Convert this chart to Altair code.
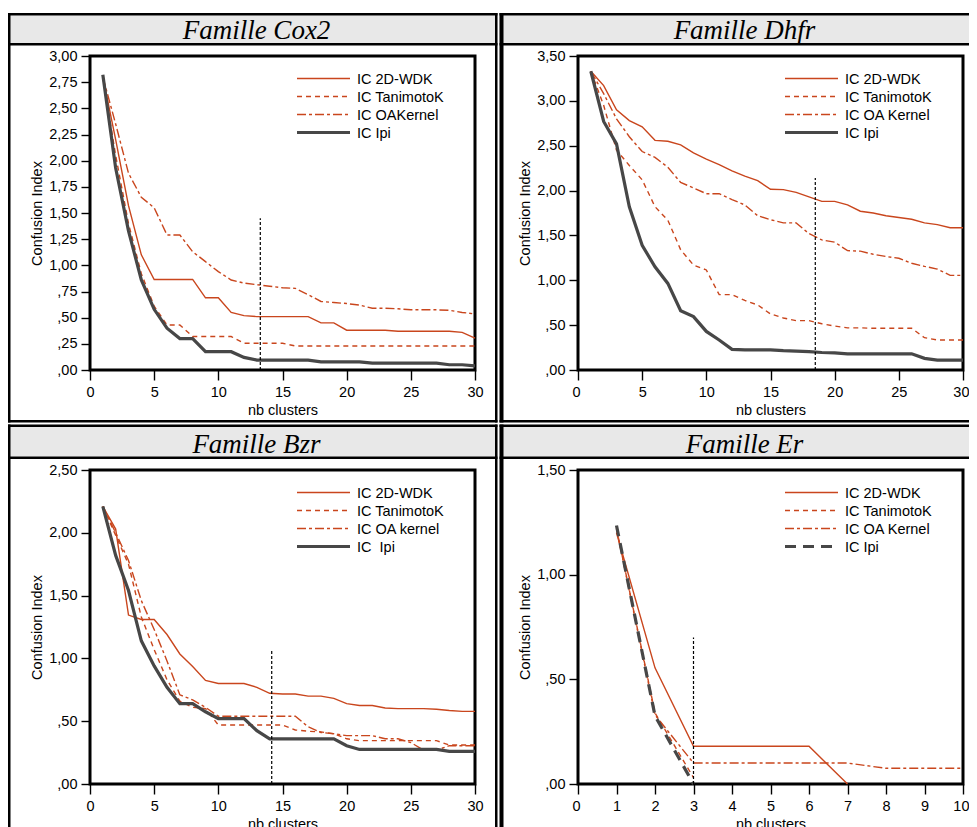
import altair as alt
import pandas as pd

# ---------------- data ----------------
x30 = list(range(1, 31))

cox2_wdk = [2.80, 2.20, 1.57, 1.10, 0.865, 0.865, 0.865, 0.865, 0.69, 0.69, 0.55, 0.52, 0.51, 0.51, 0.51,
            0.51, 0.51, 0.45, 0.45, 0.38, 0.38, 0.38, 0.38, 0.37, 0.37, 0.37, 0.37, 0.37, 0.36, 0.305]
cox2_tan = [2.80, 2.05, 1.40, 0.92, 0.61, 0.43, 0.43, 0.32, 0.32, 0.32, 0.32, 0.255, 0.255, 0.255, 0.255,
            0.23, 0.23, 0.23, 0.23, 0.23, 0.23, 0.23, 0.23, 0.23, 0.23, 0.23, 0.23, 0.23, 0.23, 0.23]
cox2_oa = [2.80, 2.35, 1.88, 1.65, 1.55, 1.29, 1.29, 1.13, 1.035, 0.94, 0.86, 0.83, 0.815, 0.80, 0.786,
           0.78, 0.72, 0.655, 0.645, 0.635, 0.62, 0.59, 0.59, 0.585, 0.575, 0.575, 0.575, 0.57, 0.55, 0.535]
cox2_ipi = [2.82, 1.93, 1.33, 0.86, 0.58, 0.40, 0.30, 0.30, 0.175, 0.175, 0.175, 0.12, 0.095, 0.095, 0.095,
            0.095, 0.095, 0.078, 0.078, 0.078, 0.078, 0.065, 0.065, 0.065, 0.065, 0.065, 0.065, 0.05, 0.05, 0.04]

dhfr_wdk = [3.33, 3.17, 2.90, 2.78, 2.71, 2.56, 2.55, 2.51, 2.42, 2.35, 2.29, 2.22, 2.16, 2.11, 2.015,
            2.01, 1.98, 1.93, 1.88, 1.88, 1.84, 1.77, 1.75, 1.72, 1.70, 1.68, 1.64, 1.62, 1.585, 1.585]
dhfr_tan = [3.33, 2.95, 2.45, 2.28, 2.12, 1.82, 1.67, 1.34, 1.17, 1.115, 0.84, 0.84, 0.775, 0.725, 0.625,
            0.58, 0.55, 0.55, 0.515, 0.49, 0.47, 0.47, 0.465, 0.465, 0.465, 0.465, 0.36, 0.335, 0.335, 0.335]
dhfr_oa = [3.33, 3.08, 2.80, 2.60, 2.435, 2.37, 2.26, 2.09, 2.03, 1.965, 1.965, 1.90, 1.84, 1.72, 1.675,
           1.64, 1.64, 1.52, 1.45, 1.425, 1.33, 1.325, 1.29, 1.265, 1.245, 1.19, 1.155, 1.125, 1.055, 1.055]
dhfr_ipi = [3.33, 2.77, 2.52, 1.82, 1.39, 1.15, 0.965, 0.66, 0.595, 0.43, 0.335, 0.23, 0.225, 0.225, 0.225,
            0.215, 0.21, 0.205, 0.195, 0.19, 0.18, 0.18, 0.18, 0.18, 0.18, 0.18, 0.13, 0.11, 0.11, 0.11]

bzr_wdk = [2.21, 2.03, 1.345, 1.31, 1.31, 1.19, 1.035, 0.935, 0.825, 0.80, 0.80, 0.80, 0.77, 0.722, 0.716,
           0.716, 0.70, 0.70, 0.682, 0.64, 0.625, 0.625, 0.605, 0.60, 0.60, 0.60, 0.595, 0.585, 0.578, 0.578]
bzr_tan = [2.21, 1.98, 1.75, 1.33, 1.07, 0.83, 0.66, 0.61, 0.60, 0.47, 0.47, 0.47, 0.47, 0.47, 0.47,
           0.43, 0.42, 0.415, 0.40, 0.36, 0.345, 0.345, 0.345, 0.345, 0.345, 0.345, 0.345, 0.31, 0.31, 0.31]
bzr_oa = [2.21, 2.00, 1.78, 1.46, 1.23, 0.98, 0.71, 0.67, 0.61, 0.54, 0.54, 0.54, 0.54, 0.54, 0.54,
          0.54, 0.455, 0.41, 0.40, 0.385, 0.385, 0.385, 0.36, 0.36, 0.33, 0.27, 0.27, 0.305, 0.305, 0.305]
bzr_ipi = [2.21, 1.82, 1.54, 1.14, 0.94, 0.77, 0.64, 0.64, 0.575, 0.52, 0.52, 0.52, 0.425, 0.36, 0.36,
           0.36, 0.36, 0.36, 0.36, 0.305, 0.275, 0.275, 0.275, 0.275, 0.275, 0.275, 0.275, 0.26, 0.26, 0.26]

er_wdk_x = [1, 2, 3, 4, 5, 6, 7]
er_wdk = [1.20, 0.555, 0.18, 0.18, 0.18, 0.18, 0.0]
er_tan_x = [1, 2, 3]
er_tan = [1.22, 0.34, 0.03]
er_oa_x = [1, 2, 3, 4, 5, 6, 7, 8, 9, 10]
er_oa = [1.22, 0.33, 0.10, 0.10, 0.10, 0.10, 0.10, 0.075, 0.075, 0.075]
er_ipi_x = [1, 2, 3]
er_ipi = [1.235, 0.326, 0.0]

titles = ["Famille Cox2", "Famille Dhfr", "Famille Bzr", "Famille Er"]
legend_labels = [
    ["IC 2D-WDK", "IC TanimotoK", "IC OAKernel", "IC Ipi"],
    ["IC 2D-WDK", "IC TanimotoK", "IC OA Kernel", "IC Ipi"],
    ["IC 2D-WDK", "IC TanimotoK", "IC OA kernel", "IC\u00a0 Ipi"],
    ["IC 2D-WDK", "IC TanimotoK", "IC OA Kernel", "IC Ipi"],
]
cut_x = [13.27, 18.49, 14.16, 3.0]
cut_top = [1.45, 2.14, 1.075, 0.70]
y_max = [3.0, 3.5, 2.5, 1.5]
y_step = [0.25, 0.5, 0.5, 0.5]
x_max = [30, 30, 30, 10]
x_step = [5, 5, 5, 1]

# ---------------- styles ----------------
ORANGE = "#c9461d"
DARK = "#474747"
SANS = "Liberation Sans"
FS = 14.5
W, H = 385, 314

LABEL_EXPR = ("datum.value < 1 ? replace(format(datum.value, '.2f'), '0.', ',') "
              ": replace(format(datum.value, '.2f'), '.', ',')")


def one():
    return alt.Data(values=[{}])


def box(x1, x2, y1, y2, color="black"):
    return alt.Chart(one()).mark_rect(color=color, clip=False).encode(
        x=alt.value(x1), x2=alt.value(x2), y=alt.value(y1), y2=alt.value(y2))


def panel(i, series, top_row, left_col, ipi_dash=None):
    xs = alt.Scale(domain=[0, x_max[i]], nice=False, zero=False)
    ys = alt.Scale(domain=[0, y_max[i]], nice=False, zero=False)
    n_x = int(round(x_max[i] / x_step[i]))
    n_y = int(round(y_max[i] / y_step[i]))
    flush = dict(labelFlush=False) if left_col else dict(labelFlush=True, labelFlushOffset=6)
    xaxis = alt.Axis(values=[k * x_step[i] for k in range(n_x + 1)], title="nb clusters",
                     grid=False, domain=False, labelOverlap=False,
                     tickSize=10, labelPadding=5, titlePadding=5, **flush)
    yaxis = alt.Axis(values=[round(k * y_step[i], 4) for k in range(n_y + 1)], title="Confusion Index",
                     grid=False, domain=False, labelExpr=LABEL_EXPR, labelOverlap=False,
                     tickSize=9, labelPadding=4, titlePadding=4)

    layers = []
    # panel frame (table-like borders with grey title box)
    top = -43.0 if top_row else -45.5
    gtop = top + 2.5
    gbot = -13.0 if top_row else -13.5
    lx1, lx2 = (-82.0, -79.5) if left_col else (-78.5, -74.5)
    rx = 407.5 if left_col else 400.0
    bottom = 366.5 if top_row else 372.0
    layers.append(box(lx1, rx, gtop, gbot, "#e8e8e8"))
    layers.append(box(lx1, rx, top, gtop))
    layers.append(box(lx1, rx, gbot, gbot + 2.5))
    layers.append(box(lx1, lx2, top, bottom))
    if left_col:
        layers.append(box(405.0, 407.5, top, bottom))
    if top_row:
        layers.append(box(lx1, rx, 364.0, 366.5))

    styles = [
        dict(color=ORANGE, strokeWidth=1.4),
        dict(color=ORANGE, strokeWidth=1.4, strokeDash=[5, 4]),
        dict(color=ORANGE, strokeWidth=1.4, strokeDash=[9, 3, 3, 3]),
        dict(color=DARK, strokeWidth=3.2) if ipi_dash is None else
        dict(color=DARK, strokeWidth=3.2, strokeDash=ipi_dash),
    ]
    for (sx, sy), st in zip(series, styles):
        df = pd.DataFrame({"x": sx, "y": sy})
        layers.append(alt.Chart(df).mark_line(**st).encode(
            x=alt.X("x:Q", scale=xs, axis=xaxis),
            y=alt.Y("y:Q", scale=ys, axis=yaxis)))

    cut = pd.DataFrame({"x": [cut_x[i]], "y0": [0.0], "y1": [cut_top[i]]})
    layers.append(alt.Chart(cut).mark_rule(color="black", strokeWidth=1.2, strokeDash=[3, 2]).encode(
        x=alt.X("x:Q", scale=xs, axis=xaxis),
        y=alt.Y("y0:Q", scale=ys, axis=yaxis), y2="y1:Q"))

    # legend
    for k, (lab, st) in enumerate(zip(legend_labels[i], styles)):
        yy = 22.5 + 18 * k
        layers.append(alt.Chart(one()).mark_rule(**st).encode(
            x=alt.value(207), x2=alt.value(260), y=alt.value(yy)))
        layers.append(alt.Chart(one()).mark_text(
            text=lab, align="left", baseline="middle", font=SANS, fontSize=FS, color="black").encode(
            x=alt.value(267), y=alt.value(yy + 1)))

    layers.append(alt.Chart(one()).mark_text(
        text=titles[i], align="center", baseline="alphabetic", font="Liberation Serif",
        fontStyle="italic", fontSize=27, color="black").encode(
        x=alt.value(166.5), y=alt.value(-17)))

    return alt.layer(*layers).properties(width=W, height=H)


p1 = panel(0, [(x30, cox2_wdk), (x30, cox2_tan), (x30, cox2_oa), (x30, cox2_ipi)], True, True)
p2 = panel(1, [(x30, dhfr_wdk), (x30, dhfr_tan), (x30, dhfr_oa), (x30, dhfr_ipi)], True, False)
p3 = panel(2, [(x30, bzr_wdk), (x30, bzr_tan), (x30, bzr_oa), (x30, bzr_ipi)], False, True)
p4 = panel(3, [(er_wdk_x, er_wdk), (er_tan_x, er_tan), (er_oa_x, er_oa), (er_ipi_x, er_ipi)],
           False, False, ipi_dash=[11, 7])

# origin of first plot at page (90, 56); svg is 961 x 819 and clips the rest
chart = alt.concat(p1, p2, p3, p4, columns=2, spacing={"row": 100, "column": 103}, bounds="flush").properties(
    autosize=alt.AutoSizeParams(type="none"),
    padding={"left": 82, "top": 48, "right": 879, "bottom": 771},
).configure_view(
    stroke="black", strokeWidth=3
).configure_axis(
    tickColor="black", tickWidth=1.4,
    labelFont=SANS, labelFontSize=FS, labelColor="black",
    titleFont=SANS, titleFontSize=FS, titleFontWeight="normal", titleColor="black",
)

chart.save("out.html", embed_options={"renderer": "svg", "actions": False})
